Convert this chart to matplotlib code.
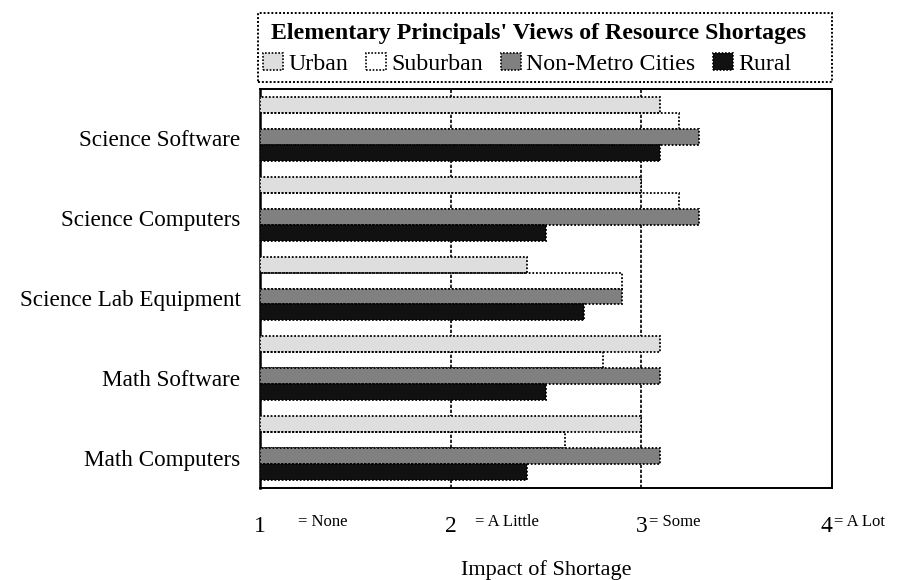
import numpy as np
import matplotlib
matplotlib.use("Agg")
import matplotlib.pyplot as plt
from matplotlib.patches import Rectangle, Patch

plt.rcParams['font.family'] = ['Liberation Serif', 'DejaVu Serif']

# data, top group first
categories = ['Science Software', 'Science Computers', 'Science Lab Equipment',
              'Math Software', 'Math Computers']
series = ['Urban', 'Suburban', 'Non-Metro Cities', 'Rural']
urban = [3.1, 3.0, 2.4, 3.1, 3.0]
suburban = [3.2, 3.2, 2.9, 2.8, 2.6]
non_metro = [3.3, 3.3, 2.9, 3.1, 3.1]
rural = [3.1, 2.5, 2.7, 2.5, 2.4]
scale_ticks = [1, 2, 3, 4]
scale_names = ['= None', '= A Little', '= Some', '= A Lot']

values = [urban, suburban, non_metro, rural]
fills = ['#dedede', 'none', '#808080', '#111111']
swatch = ['#dedede', 'white', '#808080', '#111111']

fig = plt.figure(figsize=(9.09, 5.8), dpi=100)
ax = fig.add_axes([260 / 909, 1 - 488 / 580, 572 / 909, 399 / 580])

n = len(categories)
ypos = np.arange(n)[::-1]
bh = 0.2
offsets = [1.5 * bh, 0.5 * bh, -0.5 * bh, -1.5 * bh]

for v, fc, off in zip(values, fills, offsets):
    v = np.array(v)
    ax.barh(ypos + off, v - 1, left=1, height=bh, color=fc,
            edgecolor='black', linewidth=1.3, linestyle=(0, (1, 1)), zorder=3)

for gx in [2, 3]:
    ax.axvline(gx, color='black', linewidth=1.2, linestyle=(0, (2, 1)), zorder=1)

ax.set_xlim(1, 4)
ax.set_ylim(-0.5, n - 0.5)

for side in ['top', 'bottom', 'right']:
    ax.spines[side].set_linestyle((0, (1, 1)))
    ax.spines[side].set_linewidth(1.4)
ax.spines['left'].set_linewidth(1.8)

ax.set_yticks(ypos - 0.12)
ax.set_yticklabels(categories, fontsize=16.7)
ax.tick_params(axis='y', length=0, pad=14)

ax.set_xticks(scale_ticks)
ax.set_xticklabels([str(t) for t in scale_ticks], fontsize=17)
ax.tick_params(axis='x', length=0, pad=20)
ax.get_xticklabels()[-1].set_horizontalalignment('right')

name_x = [1.2, 2.13, 3.04, 4.01]
for x, s in zip(name_x, scale_names):
    ax.text(x, -0.085, s, transform=ax.get_xaxis_transform(), fontsize=12,
            ha='left', va='center')

ax.set_xlabel('Impact of Shortage', fontsize=16)
ax.xaxis.set_label_coords(0.5, -0.18)

# legend box with title
fig.patches.append(Rectangle((258 / 909, 1 - 82 / 580), 574 / 909, 69 / 580,
                             transform=fig.transFigure, fill=False,
                             edgecolor='black', linewidth=1.4,
                             linestyle=(0, (1, 1))))
fig.text(539 / 909, 1 - 33 / 580, "Elementary Principals' Views of Resource Shortages",
         fontsize=17.2, fontweight='bold', ha='center', va='center')
handles = [Patch(facecolor=c, edgecolor='black', linewidth=1.2,
                 linestyle=(0, (1, 1))) for c in swatch]
fig.legend(handles, series, loc='center left', ncol=4, frameon=False,
           bbox_to_anchor=(263 / 909, 1 - 64 / 580), fontsize=17.2,
           handlelength=0.85, handleheight=0.7, handletextpad=0.2,
           columnspacing=0.75, borderpad=0, borderaxespad=0)

fig.savefig('out.png', dpi=100)
